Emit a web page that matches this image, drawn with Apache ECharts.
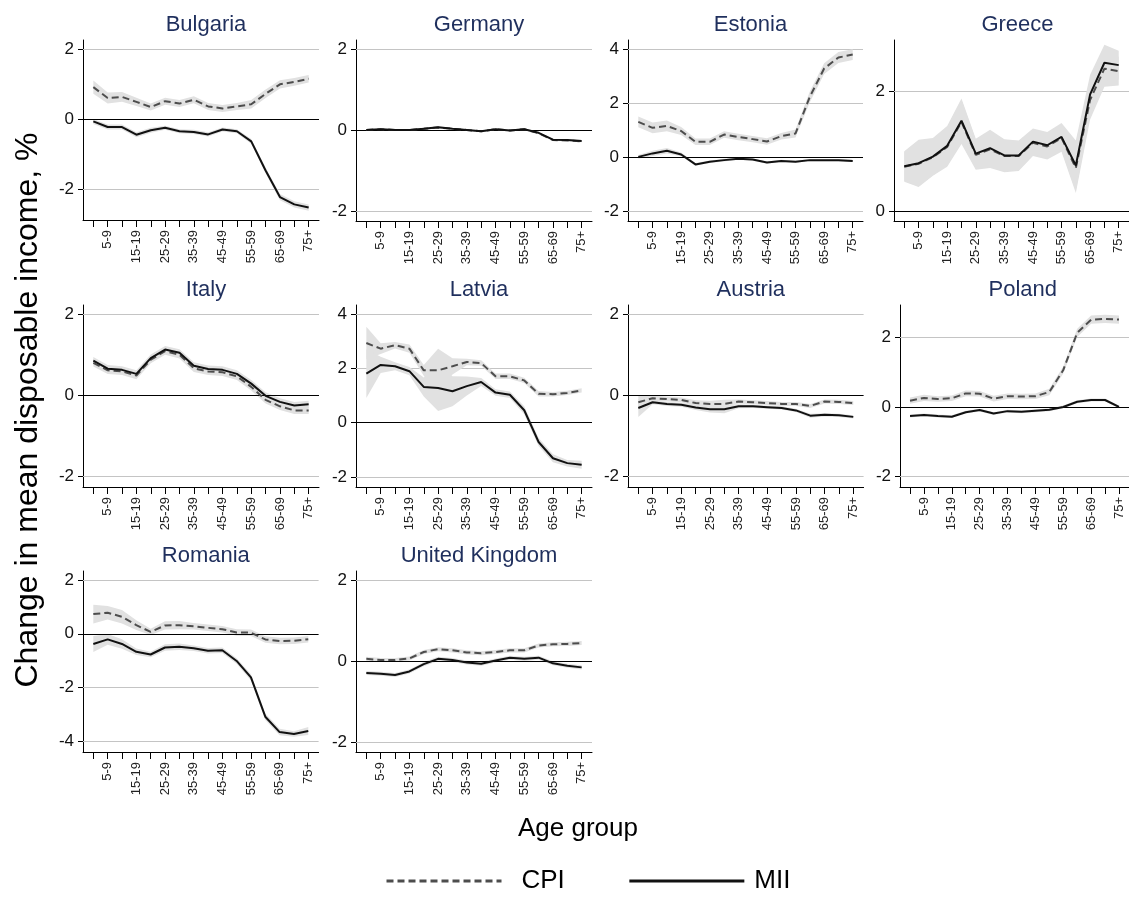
<!DOCTYPE html>
<html>
<head>
<meta charset="utf-8">
<script src="https://cdn.jsdelivr.net/npm/echarts@6/dist/echarts.min.js"></script>
<style>
  html, body { margin: 0; padding: 0; background: #ffffff; }
  #chart { width: 1129px; height: 904px; }
</style>
</head>
<body>
<div id="chart"></div>
<script>
// Age groups on the x axis (labels shown on every other group)
const ageGroups = ['0-4', '5-9', '10-14', '15-19', '20-24', '25-29', '30-34', '35-39',
  '40-44', '45-49', '50-54', '55-59', '60-64', '65-69', '70-74', '75+'];

// Change in mean disposable income (%) by age group; *Err = half-width of the confidence band
const bulgariaCpi = [0.91, 0.60, 0.63, 0.49, 0.34, 0.51, 0.44, 0.55, 0.36, 0.30, 0.36, 0.42, 0.72, 0.99, 1.06, 1.15];
const bulgariaMii = [-0.07, -0.23, -0.23, -0.45, -0.32, -0.25, -0.35, -0.37, -0.44, -0.30, -0.35, -0.64, -1.47, -2.23, -2.44, -2.53];
const bulgariaCpiErr = [0.19, 0.16, 0.14, 0.12, 0.10, 0.10, 0.10, 0.10, 0.10, 0.10, 0.10, 0.12, 0.12, 0.12, 0.11, 0.11];
const bulgariaMiiErr = [0.07, 0.07, 0.07, 0.07, 0.07, 0.06, 0.06, 0.06, 0.06, 0.06, 0.06, 0.07, 0.08, 0.09, 0.09, 0.09];
const bulgariaTicks = [-2, 0, 2];

const germanyCpi = [0.00, 0.02, 0.00, 0.00, 0.03, 0.06, 0.03, 0.00, -0.03, 0.02, -0.01, 0.02, -0.08, -0.25, -0.26, -0.28];
const germanyMii = [0.00, 0.02, 0.00, 0.00, 0.03, 0.07, 0.03, 0.00, -0.03, 0.02, -0.01, 0.02, -0.07, -0.24, -0.25, -0.27];
const germanyCpiErr = [0.02, 0.02, 0.02, 0.02, 0.02, 0.02, 0.02, 0.02, 0.02, 0.02, 0.02, 0.02, 0.02, 0.02, 0.02, 0.02];
const germanyMiiErr = [0.02, 0.02, 0.02, 0.02, 0.02, 0.02, 0.02, 0.02, 0.02, 0.02, 0.02, 0.02, 0.02, 0.02, 0.02, 0.02];
const germanyTicks = [-2, 0, 2];

const estoniaCpi = [1.31, 1.09, 1.16, 0.97, 0.57, 0.57, 0.84, 0.75, 0.67, 0.58, 0.78, 0.88, 2.24, 3.29, 3.70, 3.81];
const estoniaMii = [0.01, 0.14, 0.24, 0.10, -0.27, -0.17, -0.11, -0.06, -0.09, -0.20, -0.14, -0.17, -0.11, -0.11, -0.11, -0.14];
const estoniaCpiErr = [0.20, 0.20, 0.20, 0.15, 0.12, 0.12, 0.12, 0.12, 0.12, 0.12, 0.12, 0.15, 0.20, 0.20, 0.20, 0.20];
const estoniaMiiErr = [0.07, 0.10, 0.10, 0.07, 0.05, 0.05, 0.05, 0.04, 0.04, 0.04, 0.04, 0.04, 0.04, 0.04, 0.04, 0.04];
const estoniaTicks = [-2, 0, 2, 4];

const greeceCpi = [0.74, 0.79, 0.90, 1.07, 1.49, 0.94, 1.03, 0.92, 0.92, 1.14, 1.08, 1.22, 0.72, 1.86, 2.38, 2.34];
const greeceMii = [0.75, 0.80, 0.91, 1.09, 1.51, 0.96, 1.05, 0.93, 0.93, 1.16, 1.10, 1.24, 0.76, 1.95, 2.48, 2.44];
const greeceCpiErr = [0.25, 0.39, 0.31, 0.33, 0.37, 0.25, 0.31, 0.27, 0.25, 0.22, 0.22, 0.23, 0.42, 0.33, 0.30, 0.24];
const greeceMiiErr = [0.25, 0.39, 0.31, 0.33, 0.37, 0.25, 0.31, 0.27, 0.25, 0.22, 0.22, 0.23, 0.42, 0.33, 0.30, 0.24];
const greeceTicks = [0, 2];

const italyCpi = [0.80, 0.62, 0.59, 0.49, 0.88, 1.09, 1.00, 0.67, 0.59, 0.57, 0.47, 0.21, -0.11, -0.27, -0.37, -0.37];
const italyMii = [0.86, 0.66, 0.63, 0.53, 0.92, 1.13, 1.05, 0.73, 0.65, 0.63, 0.53, 0.29, -0.01, -0.16, -0.25, -0.22];
const italyCpiErr = [0.09, 0.09, 0.09, 0.09, 0.09, 0.09, 0.09, 0.09, 0.09, 0.09, 0.09, 0.09, 0.09, 0.09, 0.09, 0.09];
const italyMiiErr = [0.09, 0.09, 0.09, 0.09, 0.09, 0.09, 0.09, 0.09, 0.09, 0.09, 0.09, 0.09, 0.09, 0.09, 0.09, 0.09];
const italyTicks = [-2, 0, 2];

const latviaCpi = [2.94, 2.73, 2.86, 2.73, 1.93, 1.93, 2.08, 2.24, 2.20, 1.71, 1.71, 1.56, 1.07, 1.05, 1.10, 1.19];
const latviaMii = [1.81, 2.13, 2.08, 1.90, 1.32, 1.28, 1.16, 1.35, 1.50, 1.11, 1.03, 0.46, -0.71, -1.31, -1.49, -1.55];
const latviaCpiErr = [0.60, 0.20, 0.12, 0.15, 0.20, 0.80, 0.30, 0.12, 0.10, 0.10, 0.10, 0.10, 0.10, 0.08, 0.08, 0.08];
const latviaMiiErr = [0.90, 0.30, 0.15, 0.15, 0.35, 0.85, 0.55, 0.35, 0.15, 0.12, 0.12, 0.15, 0.15, 0.15, 0.12, 0.15];
const latviaTicks = [-2, 0, 2, 4];

const austriaCpi = [-0.17, -0.07, -0.09, -0.11, -0.19, -0.21, -0.21, -0.15, -0.17, -0.19, -0.21, -0.21, -0.26, -0.15, -0.16, -0.19];
const austriaMii = [-0.31, -0.17, -0.21, -0.23, -0.30, -0.34, -0.34, -0.27, -0.27, -0.29, -0.31, -0.37, -0.50, -0.48, -0.49, -0.53];
const austriaCpiErr = [0.18, 0.06, 0.06, 0.06, 0.07, 0.08, 0.10, 0.05, 0.05, 0.05, 0.05, 0.05, 0.05, 0.05, 0.05, 0.05];
const austriaMiiErr = [0.22, 0.05, 0.05, 0.05, 0.06, 0.08, 0.10, 0.05, 0.04, 0.04, 0.04, 0.04, 0.05, 0.04, 0.04, 0.04];
const austriaTicks = [-2, 0, 2];

const polandCpi = [0.18, 0.26, 0.23, 0.25, 0.39, 0.38, 0.24, 0.31, 0.30, 0.31, 0.43, 1.06, 2.13, 2.51, 2.53, 2.51];
const polandMii = [-0.26, -0.23, -0.26, -0.28, -0.15, -0.09, -0.19, -0.12, -0.14, -0.11, -0.08, 0.00, 0.15, 0.20, 0.20, 0.00];
const polandCpiErr = [0.09, 0.09, 0.08, 0.08, 0.08, 0.08, 0.08, 0.08, 0.08, 0.08, 0.09, 0.10, 0.12, 0.12, 0.12, 0.12];
const polandMiiErr = [0.04, 0.04, 0.04, 0.04, 0.04, 0.04, 0.04, 0.04, 0.04, 0.04, 0.04, 0.04, 0.04, 0.04, 0.04, 0.04];
const polandTicks = [-2, 0, 2];

const romaniaCpi = [0.73, 0.78, 0.63, 0.32, 0.07, 0.31, 0.32, 0.28, 0.22, 0.17, 0.05, 0.04, -0.21, -0.27, -0.26, -0.20];
const romaniaMii = [-0.38, -0.21, -0.38, -0.67, -0.77, -0.51, -0.48, -0.54, -0.63, -0.61, -1.01, -1.62, -3.08, -3.65, -3.72, -3.61];
const romaniaCpiErr = [0.35, 0.25, 0.25, 0.18, 0.12, 0.15, 0.15, 0.12, 0.12, 0.12, 0.12, 0.12, 0.12, 0.12, 0.12, 0.12];
const romaniaMiiErr = [0.30, 0.20, 0.18, 0.12, 0.10, 0.12, 0.12, 0.10, 0.10, 0.10, 0.10, 0.12, 0.12, 0.12, 0.10, 0.15];
const romaniaTicks = [-4, -2, 0, 2];

const ukCpi = [0.05, 0.02, 0.02, 0.06, 0.22, 0.29, 0.26, 0.21, 0.19, 0.22, 0.26, 0.26, 0.38, 0.41, 0.42, 0.44];
const ukMii = [-0.30, -0.32, -0.35, -0.26, -0.08, 0.05, 0.02, -0.04, -0.07, 0.01, 0.08, 0.05, 0.08, -0.06, -0.12, -0.16];
const ukCpiErr = [0.05, 0.05, 0.05, 0.05, 0.05, 0.05, 0.05, 0.05, 0.05, 0.05, 0.05, 0.05, 0.05, 0.05, 0.05, 0.05];
const ukMiiErr = [0.05, 0.05, 0.05, 0.05, 0.05, 0.05, 0.05, 0.05, 0.05, 0.05, 0.05, 0.05, 0.05, 0.05, 0.05, 0.05];
const ukTicks = [-2, 0, 2];

const panels = [
  { name: 'Bulgaria', cpi: bulgariaCpi, mii: bulgariaMii, cpiErr: bulgariaCpiErr, miiErr: bulgariaMiiErr, ticks: bulgariaTicks },
  { name: 'Germany', cpi: germanyCpi, mii: germanyMii, cpiErr: germanyCpiErr, miiErr: germanyMiiErr, ticks: germanyTicks },
  { name: 'Estonia', cpi: estoniaCpi, mii: estoniaMii, cpiErr: estoniaCpiErr, miiErr: estoniaMiiErr, ticks: estoniaTicks },
  { name: 'Greece', cpi: greeceCpi, mii: greeceMii, cpiErr: greeceCpiErr, miiErr: greeceMiiErr, ticks: greeceTicks },
  { name: 'Italy', cpi: italyCpi, mii: italyMii, cpiErr: italyCpiErr, miiErr: italyMiiErr, ticks: italyTicks },
  { name: 'Latvia', cpi: latviaCpi, mii: latviaMii, cpiErr: latviaCpiErr, miiErr: latviaMiiErr, ticks: latviaTicks },
  { name: 'Austria', cpi: austriaCpi, mii: austriaMii, cpiErr: austriaCpiErr, miiErr: austriaMiiErr, ticks: austriaTicks },
  { name: 'Poland', cpi: polandCpi, mii: polandMii, cpiErr: polandCpiErr, miiErr: polandMiiErr, ticks: polandTicks },
  { name: 'Romania', cpi: romaniaCpi, mii: romaniaMii, cpiErr: romaniaCpiErr, miiErr: romaniaMiiErr, ticks: romaniaTicks },
  { name: 'United Kingdom', cpi: ukCpi, mii: ukMii, cpiErr: ukCpiErr, miiErr: ukMiiErr, ticks: ukTicks }
];

// Plot-region placement (px) and y-axis extent of each small multiple
const panelLayout = [
  { left: 83,  top: 40,  width: 236, height: 180, yMin: -2.886, yMax: 2.257 },
  { left: 356, top: 40,  width: 236, height: 181, yMin: -2.247, yMax: 2.222 },
  { left: 628, top: 40,  width: 235, height: 181, yMin: -2.37,  yMax: 4.35 },
  { left: 894, top: 40,  width: 243, height: 181, yMin: -0.167, yMax: 2.86 },
  { left: 83,  top: 305, width: 236, height: 182, yMin: -2.26,  yMax: 2.23 },
  { left: 356, top: 305, width: 236, height: 182, yMin: -2.37,  yMax: 4.34 },
  { left: 628, top: 305, width: 235.6, height: 182, yMin: -2.26, yMax: 2.23 },
  { left: 900, top: 305, width: 235.6, height: 182, yMin: -2.30, yMax: 2.93 },
  { left: 83,  top: 571, width: 235.6, height: 181, yMin: -4.39, yMax: 2.33 },
  { left: 356, top: 571, width: 236, height: 181, yMin: -2.25, yMax: 2.22 }
];

const FONT = "'Liberation Sans', Arial, Helvetica, sans-serif";
const TITLE_COLOR = '#1f2f5d';
const BAND_COLOR = '#e1e1e1';
const GRID_COLOR = '#c4c4c4';
const CPI_COLOR = '#4d4d4d';
const MII_COLOR = '#111111';
const X_PAD = 0.72;

const indices = ageGroups.map((_, i) => i);
const labelIndices = indices.filter(i => i % 2 === 1);

// Shaded confidence band drawn as one polygon through the axis scales
function bandSeries(k, vals, err) {
  return {
    type: 'custom', xAxisIndex: k, yAxisIndex: k, silent: true, animation: false, z: 2,
    data: vals.map((v, i) => [i, v - err[i], v + err[i]]),
    encode: { x: 0, y: [1, 2] },
    renderItem: (params, api) => {
      if (params.dataIndex !== 0) return null;
      const upper = [], lower = [];
      for (let i = 0; i < vals.length; i++) {
        upper.push(api.coord([i, vals[i] + err[i]]));
        lower.push(api.coord([i, vals[i] - err[i]]));
      }
      return {
        type: 'polygon',
        shape: { points: upper.concat(lower.reverse()) },
        style: { fill: BAND_COLOR, stroke: null }
      };
    }
  };
}

const grids = [], xAxes = [], yAxes = [], titles = [], series = [];

panels.forEach((p, k) => {
  const L = panelLayout[k];
  grids.push({ left: L.left, top: L.top, width: L.width, height: L.height });
  titles.push({
    text: p.name,
    left: L.left + L.width / 2 - (k === 3 ? 3 : 0),
    top: L.top - 31,
    textAlign: 'center',
    textStyle: { fontFamily: FONT, fontSize: 22, fontWeight: 'normal', color: TITLE_COLOR }
  });
  xAxes.push({
    type: 'value', gridIndex: k, min: -X_PAD, max: ageGroups.length - 1 + X_PAD,
    axisLine: { show: true, onZero: false, lineStyle: { color: '#000', width: 1 } },
    axisTick: { show: true, length: 7, customValues: indices, lineStyle: { color: '#000' } },
    axisLabel: {
      show: true, rotate: 90, fontFamily: FONT, fontSize: 13, color: '#222', margin: 10,
      customValues: labelIndices,
      formatter: v => ageGroups[Math.round(v)]
    },
    splitLine: { show: false }
  });
  yAxes.push({
    type: 'value', gridIndex: k, min: L.yMin, max: L.yMax,
    axisLine: { show: true, onZero: false, lineStyle: { color: '#000', width: 1 } },
    axisTick: { show: true, length: 5, customValues: p.ticks, lineStyle: { color: '#000' } },
    axisLabel: {
      show: true, fontFamily: FONT, fontSize: 17, color: '#111', margin: 9,
      customValues: p.ticks, formatter: v => String(Math.round(v))
    },
    splitLine: { show: false }
  });

  const pts = arr => arr.map((v, i) => [i, v]);

  series.push(bandSeries(k, p.cpi, p.cpiErr));
  series.push(bandSeries(k, p.mii, p.miiErr));
  series.push({
    type: 'line', name: 'CPI', xAxisIndex: k, yAxisIndex: k, symbol: 'none', silent: true,
    animation: false, z: 4, data: pts(p.cpi), color: CPI_COLOR,
    lineStyle: { color: CPI_COLOR, width: 2, type: [7, 4] },
    markLine: {
      silent: true, symbol: ['none', 'none'], z: 1, animation: false,
      label: { show: false }, emphasis: { disabled: true },
      lineStyle: { color: GRID_COLOR, width: 1, type: 'solid' },
      data: p.ticks.filter(t => t !== 0).map(t => ({ yAxis: t }))
    }
  });
  series.push({
    type: 'line', name: 'MII', xAxisIndex: k, yAxisIndex: k, symbol: 'none', silent: true,
    animation: false, z: 5, data: pts(p.mii), color: MII_COLOR,
    lineStyle: { color: MII_COLOR, width: 2, type: 'solid' },
    markLine: {
      silent: true, symbol: ['none', 'none'], z: 3, animation: false,
      label: { show: false }, emphasis: { disabled: true },
      lineStyle: { color: '#000', width: 1, type: 'solid' },
      data: [{ yAxis: 0 }]
    }
  });
});

const chart = echarts.init(document.getElementById('chart'), null, { renderer: 'canvas' });
chart.setOption({
  backgroundColor: '#ffffff',
  animation: false,
  title: titles,
  grid: grids,
  xAxis: xAxes,
  yAxis: yAxes,
  series: series,
  legend: {
    data: [
      { name: 'CPI', textStyle: { padding: [0, 0, 0, 15] } },
      { name: 'MII', textStyle: { padding: [0, 0, 0, 5] } }
    ],
    left: 385, top: 868, padding: 0,
    itemWidth: 115, itemHeight: 14, itemGap: 63,
    selectedMode: false,
    itemStyle: { opacity: 0 },
    lineStyle: { width: 3 },
    textStyle: { fontFamily: FONT, fontSize: 26, color: '#000' }
  },
  graphic: [
    {
      type: 'text', x: 28, y: 410, rotation: Math.PI / 2,
      style: {
        text: 'Change in mean disposable income, %', fontFamily: FONT, fontSize: 32,
        fill: '#000', textAlign: 'center', textVerticalAlign: 'middle'
      }
    },
    {
      type: 'text', x: 578, y: 829,
      style: {
        text: 'Age group', fontFamily: FONT, fontSize: 26,
        fill: '#000', textAlign: 'center', textVerticalAlign: 'middle'
      }
    }
  ]
});
</script>
</body>
</html>
